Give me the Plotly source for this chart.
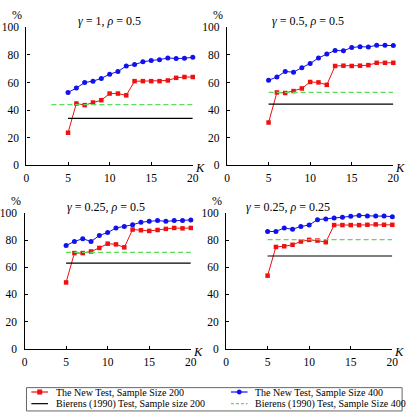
import plotly.graph_objects as go

K = list(range(5, 21))

titles = ["<i>γ</i> = 1, <i>ρ</i> = 0.5", "<i>γ</i> = 0.5, <i>ρ</i> = 0.5",
          "<i>γ</i> = 0.25, <i>ρ</i> = 0.5", "<i>γ</i> = 0.25, <i>ρ</i> = 0.25"]

new200 = [
    [23.6, 44.8, 43.6, 45.5, 47.2, 52.0, 52.0, 50.7, 61.0, 61.0, 61.0, 61.0, 61.5, 63.4, 64.0, 64.0],
    [31.0, 52.8, 52.4, 53.8, 55.7, 60.4, 60.1, 58.3, 72.0, 72.2, 72.0, 72.2, 72.6, 74.3, 74.3, 74.3],
    [48.8, 70.4, 70.4, 71.6, 74.2, 77.3, 76.8, 74.6, 87.7, 87.2, 86.7, 87.4, 88.2, 88.9, 88.6, 88.9],
    [53.8, 74.9, 75.4, 76.5, 78.9, 80.1, 79.6, 78.4, 91.0, 91.0, 91.0, 91.0, 91.2, 91.5, 91.2, 91.2],
]
new400 = [
    [52.8, 56.0, 60.0, 61.0, 63.0, 66.0, 68.0, 72.0, 73.0, 75.0, 76.0, 76.6, 77.8, 77.4, 77.6, 78.3],
    [61.6, 64.0, 68.0, 67.5, 70.8, 73.8, 77.8, 80.7, 83.3, 83.0, 85.4, 86.0, 85.8, 87.0, 87.0, 86.8],
    [76.0, 78.9, 81.0, 78.9, 83.4, 85.5, 88.9, 90.0, 91.2, 93.1, 93.8, 94.3, 93.8, 94.3, 94.3, 94.8],
    [86.3, 86.3, 88.9, 87.9, 90.0, 91.0, 95.0, 95.5, 96.2, 96.7, 97.4, 98.1, 97.6, 97.6, 97.6, 97.2],
]
bierens200 = [34.0, 44.3, 63.0, 68.2]
bierens400 = [44.0, 52.8, 70.9, 80.3]
bierens200_start = [5, 5, 5, 5]
bierens400_start = [3, 5, 5, 5]

xticks = [0, 5, 10, 15, 20]
yticks = [0, 20, 40, 60, 80, 100]

legend_labels = ["The New Test, Sample Size 200", "The New Test, Sample Size 400",
                 "Bierens (1990) Test, Sample size 200", "Bierens (1990) Test, Sample Size 400"]

W, H = 413, 415
# pixel boxes: (x0, x1, ytop, ybottom)
boxes = [(24, 194, 22, 164), (229, 399, 22, 164), (22, 192, 213, 353), (228, 398, 213, 353)]
title_pos = [0.5, 0.49, 0.49, 0.37]

FONT = "Liberation Serif"
RED, BLUE, GREEN = "#ee1111", "#1111ee", "#5cdc5c"
styles = [dict(color=RED, dash="solid", symbol="square"),
          dict(color=BLUE, dash="solid", symbol="circle"),
          dict(color="black", dash="solid", symbol=None),
          dict(color=GREEN, dash="dash", symbol=None)]


def px(x, y):
    return x / W, 1 - y / H


fig = go.Figure()
for i in range(4):
    ax = "" if i == 0 else str(i + 1)
    xa, ya = "x" + ax, "y" + ax
    fig.add_trace(go.Scatter(x=K, y=new200[i], mode="lines+markers", xaxis=xa, yaxis=ya,
                             line=dict(color=RED, width=1), marker=dict(symbol="square", size=4.5, color=RED),
                             name=legend_labels[0], showlegend=False, cliponaxis=False))
    fig.add_trace(go.Scatter(x=K, y=new400[i], mode="lines+markers", xaxis=xa, yaxis=ya,
                             line=dict(color=BLUE, width=1), marker=dict(symbol="circle", size=5, color=BLUE),
                             name=legend_labels[1], showlegend=False, cliponaxis=False))
    fig.add_trace(go.Scatter(x=[bierens200_start[i], K[-1]], y=[bierens200[i]] * 2, mode="lines",
                             xaxis=xa, yaxis=ya, line=dict(color="black", width=1.1),
                             name=legend_labels[2], showlegend=False))
    fig.add_trace(go.Scatter(x=[bierens400_start[i], K[-1]], y=[bierens400[i]] * 2, mode="lines",
                             xaxis=xa, yaxis=ya, line=dict(color=GREEN, width=1.3, dash="5px,3px"),
                             name=legend_labels[3], showlegend=False))

    x0, x1, yt, yb = boxes[i]
    axis_common = dict(showgrid=False, zeroline=False, showline=True, linecolor="black", linewidth=1.2,
                       ticks="inside", ticklen=3, tickcolor="black", tickwidth=0.8,
                       tickfont=dict(family=FONT, size=11.5, color="black"), fixedrange=True)
    fig.layout["xaxis" + ax] = dict(axis_common, domain=[x0 / W, x1 / W], range=[0, 20], tickvals=xticks,
                                    anchor=ya, ticklabelstandoff=2)
    fig.layout["yaxis" + ax] = dict(axis_common, domain=[1 - yb / H, 1 - yt / H], range=[0, 100], tickvals=yticks,
                                    anchor=xa, ticklabelstandoff=4)
    fig.add_annotation(text=titles[i], xref=xa + " domain", yref=ya + " domain", x=title_pos[i], y=1,
                       yshift=6, showarrow=False, font=dict(family=FONT, size=12, color="black"),
                       xanchor="center", yanchor="middle")
    fig.add_annotation(text="%", xref=xa + " domain", yref=ya + " domain", x=0, y=1,
                       xshift=-9, yshift=12, showarrow=False, font=dict(family=FONT, size=12, color="black"),
                       xanchor="center", yanchor="middle")
    fig.add_annotation(text="<i>K</i>", xref=xa + " domain", yref=ya + " domain", x=1, y=0,
                       xshift=7, yshift=-3, showarrow=False, font=dict(family=FONT, size=12.5, color="black"),
                       xanchor="center", yanchor="middle")

# Legend box (drawn as layout decoration, laid out like the reference's two-column legend)
bx0, by0 = px(24, 393)
bx1, by1 = px(408, 417)
fig.add_shape(type="rect", xref="paper", yref="paper", x0=bx0, x1=bx1, y0=by1, y1=by0,
              line=dict(color="#666666", width=1), fillcolor="rgba(0,0,0,0)")
col_x = [29, 233]
row_y = [397.5, 409.5]
for j, lab in enumerate(legend_labels):
    st = styles[j]
    cx = col_x[j % 2]
    ry = row_y[j // 2]
    lx0, ly = px(cx, ry)
    lx1, _ = px(cx + 17, ry)
    fig.add_shape(type="line", xref="paper", yref="paper", x0=lx0, x1=lx1, y0=ly, y1=ly,
                  line=dict(color=st["color"], width=1.2 if st["dash"] == "solid" else 1.3,
                            dash="solid" if st["dash"] == "solid" else "3px,2px"))
    if st["symbol"]:
        mx0, my0 = px(cx + 8.5 - 2.3, ry - 2.3)
        mx1, my1 = px(cx + 8.5 + 2.3, ry + 2.3)
        fig.add_shape(type="rect" if st["symbol"] == "square" else "circle", xref="paper", yref="paper",
                      x0=mx0, x1=mx1, y0=my1, y1=my0, line=dict(color=st["color"], width=0.5),
                      fillcolor=st["color"])
    tx, ty = px(cx + 23, ry)
    fig.add_annotation(text=lab, xref="paper", yref="paper", x=tx, y=ty, xanchor="left", yanchor="middle",
                       showarrow=False, font=dict(family=FONT, size=10, color="black"))

fig.update_layout(
    width=W, height=H, margin=dict(l=0, r=0, t=0, b=0),
    paper_bgcolor="white", plot_bgcolor="white",
    font=dict(family=FONT, color="black"),
    showlegend=False,
)

fig.write_html("out.html")
